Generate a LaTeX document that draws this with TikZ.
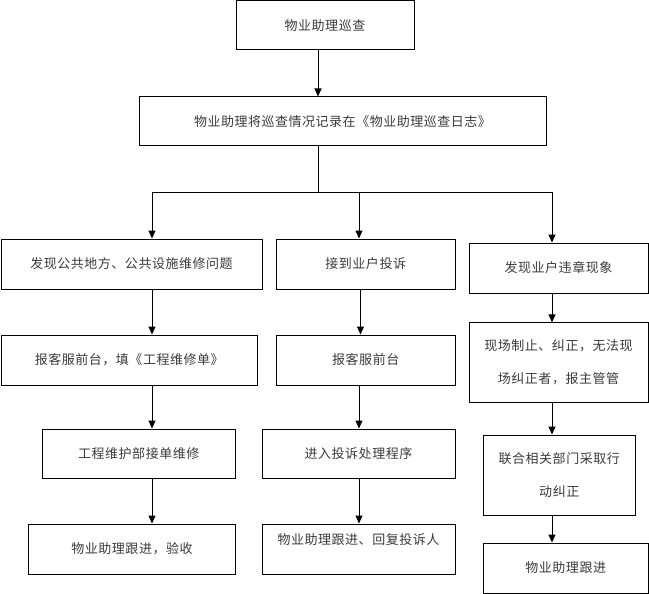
\documentclass[tikz,border=0pt]{standalone}
\usepackage{fontspec}
\newfontfamily\cjk[LetterSpace=4]{Noto Sans CJK SC}
\usetikzlibrary{arrows.meta}
\definecolor{txt}{HTML}{3A3A3A}
\begin{document}
\begin{tikzpicture}[x=1pt,y=-1pt,
  box/.style={draw=black,line width=1pt,inner sep=0pt,font=\cjk\fontsize{13}{33}\selectfont,text=txt,align=center},
  arr/.style={line width=1pt,-{Triangle[length=8pt,width=7pt]}},
  ln/.style={line width=1pt}]
\useasboundingbox (0,0) rectangle (649,594);
% row 0/1
\node[box,minimum width=178pt,minimum height=49pt] (b1) at (325,25.5) {物业助理巡查};
\node[box,minimum width=407pt,minimum height=49pt] (b2) at (342.5,121.5) {物业助理将巡查情况记录在《物业助理巡查日志》};
% left column
\node[box,minimum width=261pt,minimum height=50pt] (a1) at (131.5,264) {发现公共地方、公共设施维修问题};
\node[box,minimum width=256.5pt,minimum height=50pt] (a2) at (129.25,360) {报客服前台，填《工程维修单》};
\node[box,minimum width=193.5pt,minimum height=49pt] (a3) at (138.75,453.5) {工程维护部接单维修};
\node[box,minimum width=207pt,minimum height=50pt] (a4) at (132,549) {物业助理跟进，验收};
% middle column
\node[box,minimum width=178.5pt,minimum height=50pt] (m1) at (365.75,264) {接到业户投诉};
\node[box,minimum width=178.5pt,minimum height=50pt] (m2) at (365.75,360) {报客服前台};
\node[box,minimum width=193pt,minimum height=49pt] (m3) at (358.5,453.5) {进入投诉处理程序};
\node[box,minimum width=193pt,minimum height=50pt] (m4) at (358.5,549) {};
\node[font=\cjk\fontsize{13}{33}\selectfont,text=txt,inner sep=0pt] (m4t) at (358.5,540) {物业助理跟进、回复投诉人};
% right column
\node[box,minimum width=179pt,minimum height=50pt] (c1) at (558.5,268) {发现业户违章现象};
\node[box,minimum width=179pt,minimum height=79.3pt] (c2) at (558.5,362.5) {现场制止、纠正，无法现\\场纠正者，报主管管};
\node[box,minimum width=151.5pt,minimum height=80pt] (c3) at (559.25,475) {联合相关部门采取行\\动纠正};
\node[box,minimum width=164.5pt,minimum height=50pt] (c4) at (565.75,568) {物业助理跟进};
% guide coordinates
\coordinate (xa) at (318,0);
\coordinate (xl) at (152,0);
\coordinate (xm) at (359,0);
\coordinate (xm2) at (360.5,0);
\coordinate (xr) at (552,0);
\coordinate (jy) at (0,192);
% connectors
\draw[arr] (b1.south -| xa) -- (b2.north -| xa);
\draw[ln] (b2.south -| xa) -- (jy -| xa);
\draw[ln] (jy -| xl) -- (jy -| xr);
\draw[arr] (jy -| xl) -- (a1.north -| xl);
\draw[arr] (jy -| xm) -- (m1.north -| xm);
\draw[arr] (jy -| xr) -- (c1.north -| xr);
\draw[arr] (a1.south -| xl) -- (a2.north -| xl);
\draw[arr] (a2.south -| xl) -- (a3.north -| xl);
\draw[arr] (a3.south -| xl) -- (a4.north -| xl);
\draw[arr] (m1.south -| xm2) -- (m2.north -| xm2);
\draw[arr] (m2.south -| xm) -- (m3.north -| xm);
\draw[arr] (m3.south -| xm) -- (m4.north -| xm);
\draw[arr] (c1.south -| xr) -- (c2.north -| xr);
\draw[arr] (c2.south -| xr) -- (c3.north -| xr);
\draw[arr] (c3.south -| xr) -- (c4.north -| xr);
\end{tikzpicture}
\end{document}
